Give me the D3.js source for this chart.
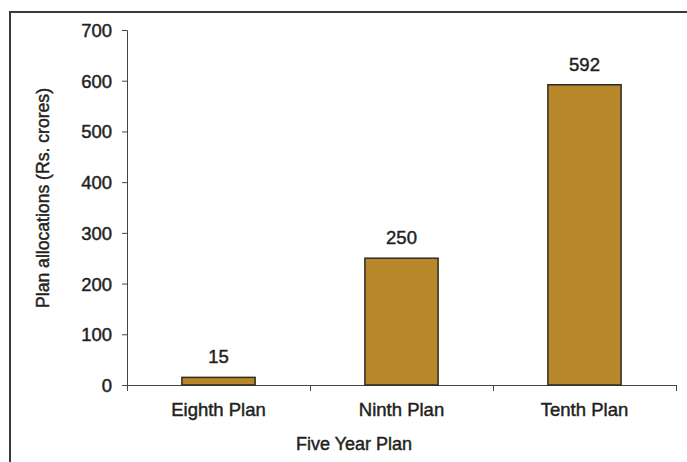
<!DOCTYPE html>
<html><head><meta charset="utf-8">
<script src="https://cdn.jsdelivr.net/npm/d3@7"></script>
<style>body{margin:0;background:#fff}svg{display:block}text{font-family:"Liberation Sans",Arial,sans-serif;fill:#231f20;stroke:#231f20;stroke-width:0.45px}</style>
</head><body><svg id="c" width="687" height="462"></svg>
<script>
const categories = ["Eighth Plan", "Ninth Plan", "Tenth Plan"];
const values = [15, 250, 592];
const yTicks = [0, 100, 200, 300, 400, 500, 600, 700];

const svg = d3.select("#c");
// frame
svg.append("rect").attr("x", 10).attr("y", 12).attr("width", 700).attr("height", 480)
  .attr("fill", "none").attr("stroke", "#3a3a3a").attr("stroke-width", 2);

const x = d3.scaleBand().domain(categories).range([127, 676]).padding(0);
const y = d3.scaleLinear().domain([0, 700]).range([385, 30]);

// y axis
const ya = svg.append("g").attr("transform", "translate(127,0)")
  .call(d3.axisLeft(y).tickValues(yTicks).tickSize(5).tickPadding(10).tickFormat(d3.format("d")));
ya.select(".domain").attr("stroke", "#444").attr("d", "M-5,30.5H0.5V385.5");
ya.selectAll(".tick line").attr("stroke", "#444");
ya.selectAll("text").style("font-size", "18.5px").attr("fill", "#231f20").attr("dy", "0.35em");

// x axis
const xa = svg.append("g").attr("transform", "translate(0,385)");
xa.append("line").attr("x1", x.range()[0]).attr("x2", x.range()[1]).attr("y1", 0.5).attr("y2", 0.5).attr("stroke", "#444");
const edges = categories.map(c => x(c)).concat([x.range()[1]]);
xa.selectAll(".xt").data(edges).enter().append("line")
  .attr("x1", d => d + 0.5).attr("x2", d => d + 0.5).attr("y1", 0).attr("y2", 6).attr("stroke", "#444");
xa.selectAll(".xl").data(categories).enter().append("text")
  .attr("x", d => x(d) + x.bandwidth() / 2).attr("y", 31)
  .attr("text-anchor", "middle").style("font-size", "18.5px").text(d => d);

// bars
const bw = x.bandwidth() * 0.4;
svg.selectAll(".bar").data(values).enter().append("rect")
  .attr("x", (d, i) => x(categories[i]) + x.bandwidth() / 2 - bw / 2)
  .attr("y", d => y(d))
  .attr("width", bw)
  .attr("height", d => y(0) - y(d))
  .attr("fill", "#b8872a").attr("stroke", "#2e2a26").attr("stroke-width", 1.5);

svg.selectAll(".val").data(values).enter().append("text")
  .attr("x", (d, i) => x(categories[i]) + x.bandwidth() / 2)
  .attr("y", d => y(d) - 14)
  .attr("text-anchor", "middle").style("font-size", "18.5px").text(d => d);

// axis titles
svg.append("text").attr("x", 354).attr("y", 450).attr("text-anchor", "middle")
  .style("font-size", "18px").text("Five Year Plan");
svg.append("text").attr("transform", "translate(49,198) rotate(-90)").attr("text-anchor", "middle")
  .style("font-size", "17.6px").text("Plan allocations (Rs. crores)");
</script></body></html>
